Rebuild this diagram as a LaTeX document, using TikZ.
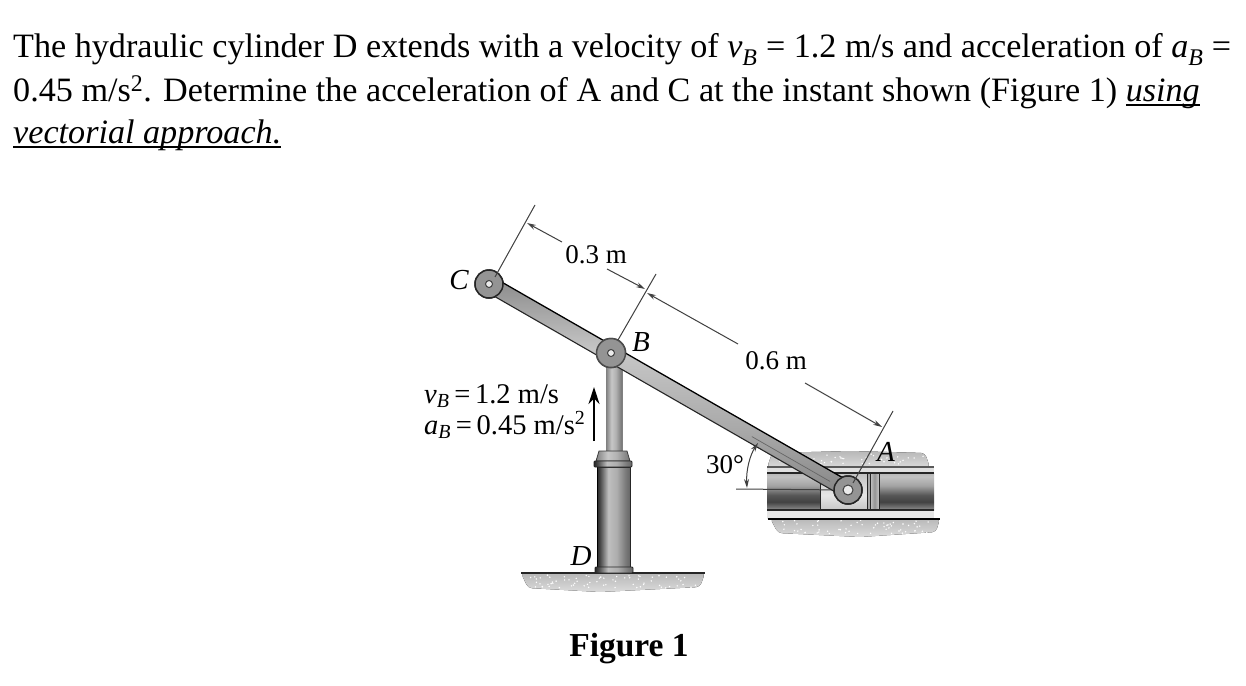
\documentclass[tikz,border=0pt]{standalone}
\usepackage{fontspec}
\setmainfont{Liberation Serif}
\usetikzlibrary{arrows.meta,calc}
\pgfdeclareverticalshading{tube}{100bp}{
 color(0bp)=(black!42); color(25bp)=(black!42);
 color(29bp)=(black!55); color(36bp)=(black!74); color(45bp)=(black!66); color(58bp)=(black!36); color(70bp)=(black!24);color(75bp)=(black!28); color(100bp)=(black!28)}
\pgfdeclareverticalshading{slide}{100bp}{
 color(0bp)=(black!22); color(25bp)=(black!22);
 color(45bp)=(black!10); color(60bp)=(black!16); color(75bp)=(black!24); color(100bp)=(black!24)}
\pgfdeclarehorizontalshading{body}{100bp}{
 color(0bp)=(black!85); color(25bp)=(black!85);
 color(30bp)=(black!70); color(42bp)=(black!25); color(55bp)=(black!32); color(68bp)=(black!52); color(75bp)=(black!60); color(100bp)=(black!60)}
\pgfdeclarehorizontalshading{rod}{100bp}{
 color(0bp)=(black!50); color(25bp)=(black!50);
 color(42bp)=(black!22); color(55bp)=(black!30); color(75bp)=(black!55); color(100bp)=(black!55)}
\pgfdeclareverticalshading{barshade}{100bp}{
 color(0bp)=(black!48); color(25bp)=(black!48);
 color(40bp)=(black!34); color(58bp)=(black!22); color(75bp)=(black!46); color(100bp)=(black!46)}
\newcommand{\ulx}[1]{\leavevmode\sbox0{#1}\rlap{\usebox0}\rule[-4.5pt]{\wd0}{1.3pt}}
\tikzset{
 x=1pt,y=-1pt,
 bodytext/.style={anchor=base west,inner sep=0pt,font=\fontsize{34.15}{40}\selectfont},
 figtext/.style={inner sep=0pt,font=\fontsize{27}{31}\selectfont},
 speedtext/.style={inner sep=0pt,font=\fontsize{28.5}{31}\selectfont},
 letter/.style={inner sep=0pt,font=\fontsize{29}{31}\selectfont\itshape},
 thinline/.style={draw=black!75,line width=1pt},
 dimarrow/.style={thinline,-{Stealth[length=9pt,width=5pt]}},
 pin/.style={circle,draw=black!85,line width=1.5pt,fill=black!42,inner sep=0pt},
 hole/.style={circle,draw=black!75,line width=1pt,fill=black!8,minimum size=7pt,inner sep=0pt},
 ground/.style={top color=black!28,bottom color=black!14,draw=none,rounded corners=4pt},
 rail/.style={draw=black,line width=1.2pt},
}
\newcommand{\speckle}[4]{\foreach \k in {1,...,#1}{
  \pgfmathsetmacro{\px}{#2+rnd*(#3-#2)}
  \pgfmathsetmacro{\py}{#4}
  \fill[white] (\px,\py) circle (0.8pt);}}
\begin{document}
\begin{tikzpicture}
\pgfmathsetseed{7}
\useasboundingbox (0,0) rectangle (1246,685);
\fill[white] (0,0) rectangle (1246,685);
% problem text
\node[bodytext] (l1) at (13,58) {The hydraulic cylinder D extends with a velocity of \textit{v}\textsubscript{\textit{B}} = 1.2 m/s and acceleration of \textit{a}\textsubscript{\textit{B}} =};
\node[bodytext] (l2) at (13,101) {0.45 m/s\textsuperscript{2}. Determine the acceleration of A and C at the instant shown (Figure 1) \ulx{\textit{using}}};
\node[bodytext] (l3) at (13,143) {\ulx{\textit{vectorial approach.}}};
\node[inner sep=0pt,anchor=base,font=\fontsize{33.5}{40}\selectfont\bfseries] (fig) at (629,656) {Figure 1};
% ground under D
\fill[ground] (521,573) -- (705,573) -- (700,587) -- (600,592) -- (528,588) -- cycle;
\speckle{70}{530}{698}{575+rnd*13}
\draw[black!85,line width=1.1pt] (521,573) -- (705,573);
% ground at A
\fill[ground] (767,468) -- (772,453) -- (850,451) -- (925,453) -- (930,468) -- cycle;
\fill[ground] (770,518) -- (940,518) -- (936,532) -- (860,537) -- (778,533) -- cycle;
\speckle{45}{775}{925}{454+rnd*10}
\speckle{60}{775}{932}{520+rnd*14}
% tube and slider
\shade[shading=tube] (767,473) rectangle (934,510);
\shade[shading=slide] (820,473) rectangle (879,510);
\fill[black!35] (867,473) rectangle (870,510);
\shade[left color=black!22,right color=black!22,middle color=black!42] (870,473) rectangle (879,510);
\draw[line width=1pt,black!85] (820,473) -- (820,510) (879,473) -- (879,510) (867,473) -- (867,510) (870,473) -- (870,510);
\fill[black!12] (767,467) rectangle (934,473);
\fill[black!10] (767,510) rectangle (934,519);
\draw[rail,black!65] (767,467) -- (934,467);
\draw[rail,black!85] (767,473) -- (934,473);
\draw[rail,black!85] (767,510) -- (934,510);
\draw[rail] (768,519) -- (940,519);
% cylinder D
\shade[shading=rod] (606,360) rectangle (622,452);
\draw[black!50,line width=0.7pt] (606,360) -- (606,452) (622,360) -- (622,452);
\shade[shading=body,draw=black!85,line width=0.7pt] (597,467) rectangle (630,567);
\draw[black,line width=1.6pt] (597.5,467) -- (597.5,567);
\shade[shading=rod,draw=black!80,line width=0.7pt] (599,451) -- (627,451) -- (630,461) -- (596,461) -- cycle;
\shade[shading=body,draw=black!85,line width=0.8pt,rounded corners=1pt] (594,461) rectangle (632,467);
\shade[shading=body,draw=black!85,line width=0.8pt,rounded corners=1pt] (595,567) rectangle (633,573);
% named points
\node[pin,minimum size=28pt] (C) at (489,284) {};
\node[pin,minimum size=28pt] (A) at (848,490) {};
\node[pin,minimum size=29pt] (B) at (611,353) {};
% horizontal reference line of the angle
\coordinate (h1) at (736,489);
\draw[thinline] (h1) -- (A);
% bar
\begin{scope}[shift={(489,284)},rotate=-29.85]
\shade[shading=barshade] (0,-8) rectangle (414,8);
\draw[black,line width=1.3pt] (0,-8) -- (414,-8);
\draw[black!85,line width=1.1pt] (0,8) -- (414,8);
\draw[black!60,line width=0.7pt] (304,1.5) -- (394,1.5);
\end{scope}
\node[pin,minimum size=28pt] at (C) {};
\node[pin,minimum size=29pt,draw=black!70] at (B) {};
\node[pin,minimum size=28pt] at (A) {};
\node[hole] (Ch) at (C) {};
\node[hole] (Bh) at (B) {};
\node[hole,minimum size=10pt] (Ah) at (A) {};
% labels
\node[letter] (Cl) at (459,280) {C};
\node[letter] (Bl) at (641,342) {B};
\node[letter] (Al) at (886,452) {A};
\node[letter] (Dl) at (581,556) {D};
\node[figtext] (d1) at (596,255) {0.3 m};
\node[figtext] (d2) at (776,361) {0.6 m};
\node[figtext] (ang) at (725,465) {30°};
\node[speedtext,anchor=base west] (vb) at (424,403) {\textit{v}\textsubscript{\textit{B}}\,=\,1.2 m/s};
\node[speedtext,anchor=base west] (ab) at (424,434) {\textit{a}\textsubscript{\textit{B}}\,=\,0.45 m/s\textsuperscript{2}};
% velocity arrow
\coordinate (vs) at (594,441);
\coordinate (ve) at (594,387);
\draw[black,line width=1.3pt,-{Stealth[length=17pt,width=11pt]}] (vs) -- (ve);
% dimension lines
\coordinate (e1a) at (495,277); \coordinate (e1b) at (535,205);
\coordinate (e2a) at (618,340); \coordinate (e2b) at (656,274);
\coordinate (e3a) at (853,483); \coordinate (e3b) at (893,411);
\draw[thinline] (e1a) -- (e1b);
\draw[thinline] (e2a) -- (e2b);
\draw[thinline] (e3a) -- (e3b);
\coordinate (t1) at (527,223); \coordinate (t2) at (645,289);
\coordinate (t3) at (647,293); \coordinate (t4) at (882,427);
\coordinate (s1) at (562,242); \coordinate (s2) at (607,269);
\coordinate (s3) at (738,344); \coordinate (s4) at (805,383);
\draw[dimarrow] (s1) -- (t1);
\draw[dimarrow] (s2) -- (t2);
\draw[dimarrow] (s3) -- (t3);
\draw[dimarrow] (s4) -- (t4);
% angle
\coordinate (ar1) at (747,488); \coordinate (ar2) at (758,443);
\draw[thinline,{Stealth[length=9pt,width=5pt]}-{Stealth[length=9pt,width=5pt]}] (ar1) .. controls (746,470) and (750,455) .. (ar2);
\end{tikzpicture}
\end{document}
